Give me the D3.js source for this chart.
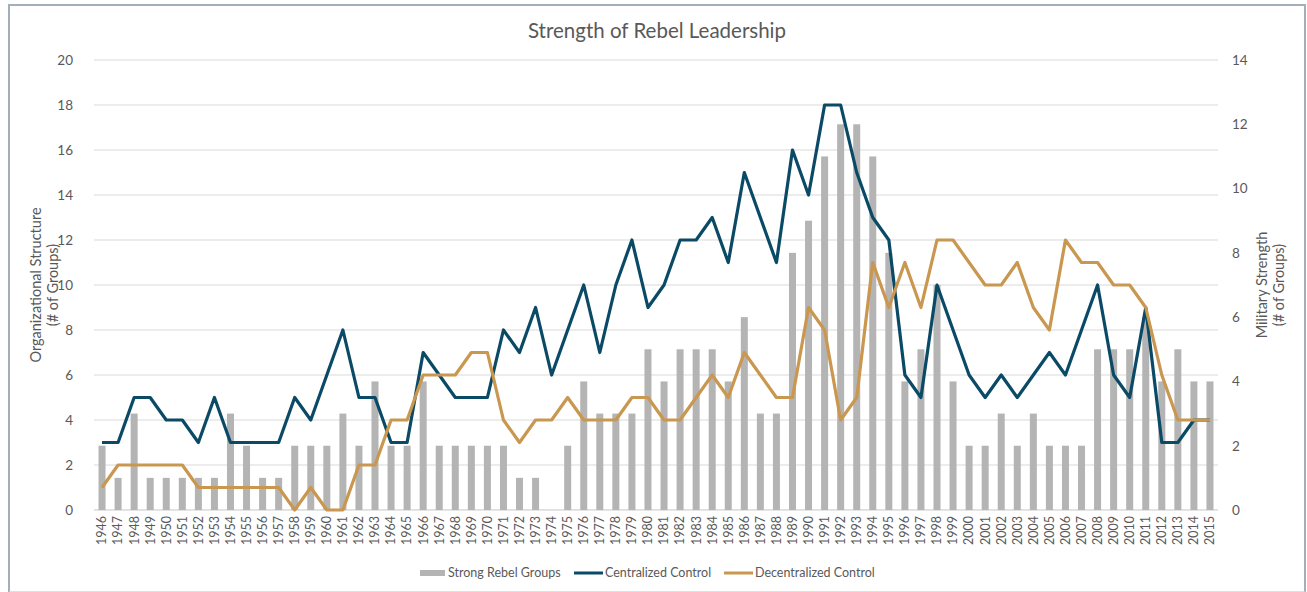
<!DOCTYPE html>
<html>
<head>
<meta charset="utf-8">
<script src="https://cdn.jsdelivr.net/npm/d3@7/dist/d3.min.js"></script>
<style>
  body { margin: 0; background: #fff; font-family: Lato, "Open Sans", sans-serif; }
  .frame { position: absolute; left: 8px; top: 4px; width: 1294px; height: 585px; border: 2px solid #a3afbd; border-bottom-color: #dde1e6; }
  svg { position: absolute; left: 0; top: 0; }
  .axis text { fill: #595959; font-family: Lato, sans-serif; }
  .axis path, .axis line { display: none; }
</style>
</head>
<body>
<div class="frame"></div>
<svg class="root"></svg>
<script>
var years = d3.range(1946, 2016).map(String);

// Strong Rebel Groups (right axis, military strength)
var strong = [2,1,3,1,1,1,1,1,3,2, 1,1,2,2,2,3,2,4,2,2,
              4,2,2,2,2,2,1,1,0,2, 4,3,3,3,5,4,5,5,5,4,
              6,3,3,8,9,11,12,12,11,8, 4,5,7,4,2,2,3,2,3,2,
              2,2,5,5,5,6,4,5,4,4];

// Centralized Control (left axis)
var central = [3,3,5,5,4,4,3,5,3,3, 3,3,5,4,6,8,5,5,3,3,
               7,6,5,5,5,8,7,9,6,8, 10,7,10,12,9,10,12,12,13,11,
               15,13,11,16,14,18,18,15,13,12, 6,5,10,8,6,5,6,5,6,7,
               6,8,10,6,5,9,3,3,4,4];

// Decentralized Control (left axis)
var decentral = [1,2,2,2,2,2,1,1,1,1, 1,1,0,1,0,0,2,2,4,4,
                 6,6,6,7,7,4,3,4,4,5, 4,4,4,5,5,4,4,5,6,5,
                 7,6,5,5,9,8,4,5,11,9, 11,9,12,12,11,10,10,11,9,8,
                 12,11,11,10,10,9,6,4,4,4];

var leftTicks = d3.range(0, 21, 2);
var rightTicks = d3.range(0, 15, 2);

var margin = {top: 60, right: 89, bottom: 82, left: 94},
    width = 1307 - margin.left - margin.right,
    height = 592 - margin.top - margin.bottom;

var svg = d3.select(".root")
    .attr("width", 1307)
    .attr("height", 592);

svg.append("text")
  .attr("x", 657).attr("y", 38)
  .attr("text-anchor", "middle")
  .style("font-size", "20.5px")
  .style("fill", "#595959")
  .text("Strength of Rebel Leadership");

var g = svg.append("g")
  .attr("transform", "translate(" + margin.left + "," + margin.top + ")");

var x = d3.scaleBand().domain(years).range([0, width]).padding(0);
var yL = d3.scaleLinear().domain([0, 20]).range([height, 0]);
var yR = d3.scaleLinear().domain([0, 14]).range([height, 0]);

// gridlines
g.append("g")
  .selectAll("line")
  .data(leftTicks)
  .enter().append("line")
    .attr("x1", 0).attr("x2", width)
    .attr("y1", (d) => yL(d)).attr("y2", (d) => yL(d))
    .attr("stroke", "#d9d9d9")
    .attr("stroke-width", 1);

g.append("g")
  .attr("class", "axis")
  .attr("transform", "translate(-13,0)")
  .call(d3.axisLeft(yL).tickValues(leftTicks).tickSize(0).tickPadding(8))
  .selectAll("text").style("font-size", "13.5px");

g.append("g")
  .attr("class", "axis")
  .attr("transform", "translate(" + (width + 6) + ",0)")
  .call(d3.axisRight(yR).tickValues(rightTicks).tickSize(0).tickPadding(8))
  .selectAll("text").style("font-size", "13.5px");

var xAxis = g.append("g")
  .attr("class", "axis")
  .attr("transform", "translate(0," + height + ")")
  .call(d3.axisBottom(x).tickSize(0));
xAxis.selectAll("text")
  .style("font-size", "12.5px")
  .attr("text-anchor", "end")
  .attr("dx", "-6px")
  .attr("dy", "0.35em")
  .attr("y", 0)
  .attr("x", 0)
  .attr("transform", "rotate(-90)");

// baseline
g.append("line")
  .attr("x1", 0).attr("x2", width)
  .attr("y1", height).attr("y2", height)
  .attr("stroke", "#d9d9d9");

var bw = 7;
g.append("g")
  .selectAll("rect")
  .data(strong)
  .enter().append("rect")
    .attr("x", (d, i) => x(years[i]) + x.bandwidth() / 2 - bw / 2)
    .attr("y", (d) => yR(d))
    .attr("width", bw)
    .attr("height", (d) => height - yR(d))
    .attr("fill", "#b4b4b4");

var line = d3.line()
  .x((d, i) => x(years[i]) + x.bandwidth() / 2)
  .y((d) => yL(d));

g.append("path")
  .datum(central)
  .attr("d", line)
  .attr("fill", "none")
  .attr("stroke", "#0b4a66")
  .attr("stroke-width", 3.2)
  .attr("stroke-linejoin", "round");

g.append("path")
  .datum(decentral)
  .attr("d", line)
  .attr("fill", "none")
  .attr("stroke", "#c9974f")
  .attr("stroke-width", 3.2)
  .attr("stroke-linejoin", "round");

// axis titles
svg.append("text")
  .attr("transform", "translate(41," + (margin.top + height / 2) + ")rotate(-90)")
  .attr("text-anchor", "middle")
  .style("font-size", "14.5px").style("fill", "#595959")
  .selectAll("tspan")
  .data(["Organizational Structure", "(# of Groups)"])
  .enter().append("tspan")
    .attr("x", 0)
    .attr("dy", (d, i) => i === 0 ? "0" : "1.15em")
    .text((d) => d);

svg.append("text")
  .attr("transform", "translate(1267," + (margin.top + height / 2) + ")rotate(-90)")
  .attr("text-anchor", "middle")
  .style("font-size", "14.5px").style("fill", "#595959")
  .selectAll("tspan")
  .data(["Military Strength", "(# of Groups)"])
  .enter().append("tspan")
    .attr("x", 0)
    .attr("dy", (d, i) => i === 0 ? "0" : "1.15em")
    .text((d) => d);

// legend
var legend = [
  {name: "Strong Rebel Groups", type: "bar", color: "#b4b4b4", x: 420},
  {name: "Centralized Control", type: "line", color: "#0b4a66", x: 574},
  {name: "Decentralized Control", type: "line", color: "#c9974f", x: 724}
];
var lg = svg.append("g").selectAll("g")
  .data(legend)
  .enter().append("g")
    .attr("transform", (d) => "translate(" + d.x + ",573)");
lg.filter((d) => d.type === "bar").append("rect")
  .attr("x", 0).attr("y", -3).attr("width", 25).attr("height", 6)
  .attr("fill", (d) => d.color);
lg.filter((d) => d.type === "line").append("line")
  .attr("x1", 0).attr("x2", 29).attr("y1", 0).attr("y2", 0)
  .attr("stroke", (d) => d.color).attr("stroke-width", 3);
lg.append("text")
  .attr("x", (d) => d.type === "bar" ? 28 : 31)
  .attr("y", 0).attr("dy", "0.35em")
  .style("font-size", "12.5px").style("fill", "#595959")
  .text((d) => d.name);
</script>
</body>
</html>
